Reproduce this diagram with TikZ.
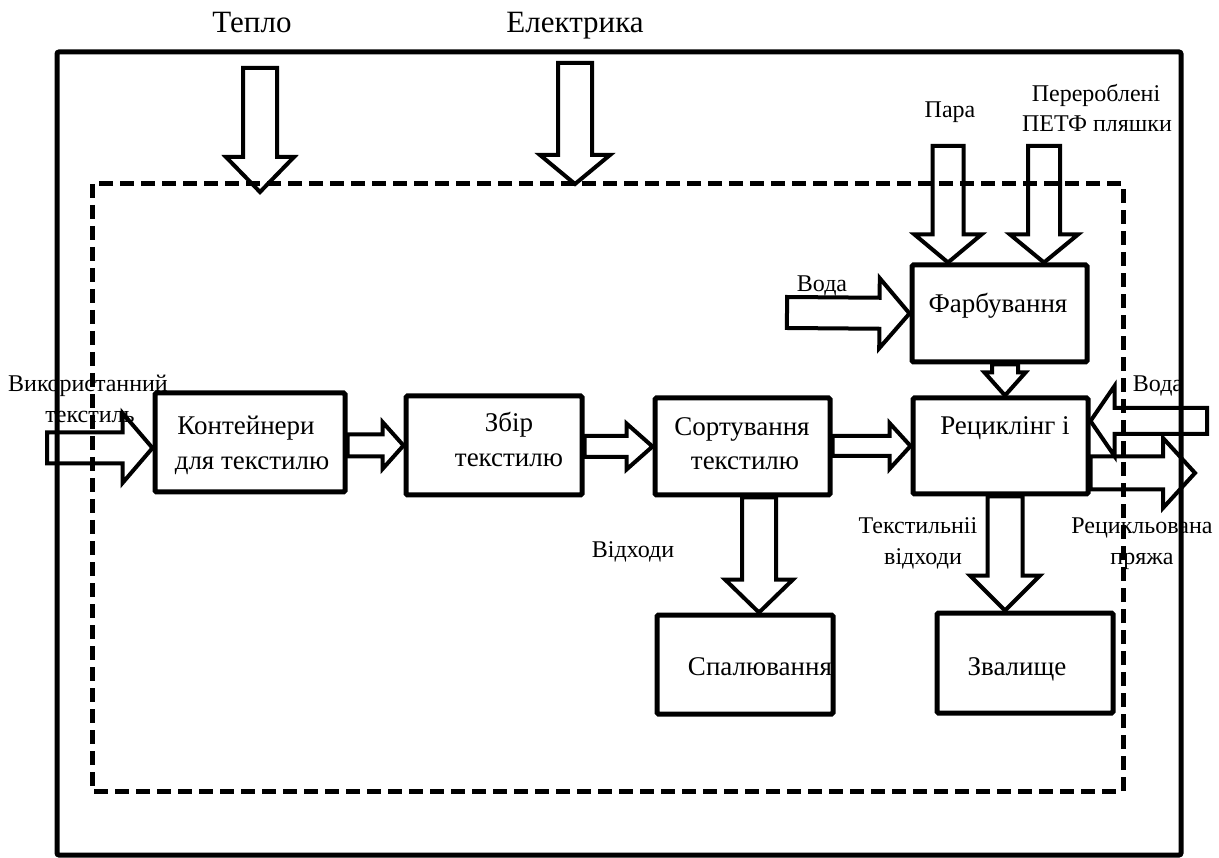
\documentclass[tikz,border=0pt]{standalone}
\usepackage{fontspec}
\setmainfont{Liberation Serif}
\usetikzlibrary{calc}
\tikzset{
  box/.style={draw, line width=5pt, rounded corners=1.5pt, inner sep=0pt},
  fat/.style={draw, line width=4pt, line join=miter, miter limit=6},
  txt/.style={inner sep=0pt, anchor=base, font=\fontsize{27}{32}\selectfont},
  lbl/.style={inner sep=0pt, anchor=base, font=\fontsize{24}{28}\selectfont},
  head/.style={inner sep=0pt, anchor=base, font=\fontsize{31}{36}\selectfont},
}
% outlined block arrow: [options]{from}{to}{shaft half width}{head half width}{head length}
\newcommand{\blockarrow}[6][]{%
  \coordinate (ba-h) at ($(#3)!#6pt!(#2)$);
  \draw[fat,#1] ($(#2)!#4pt!90:(#3)$) -- ($(ba-h)!#4pt!-90:(#2)$)
    -- ($(ba-h)!#5pt!-90:(#2)$) -- (#3) -- ($(ba-h)!#5pt!90:(#2)$)
    -- ($(ba-h)!#4pt!90:(#2)$) -- ($(#2)!#4pt!-90:(#3)$) -- cycle;
}
\begin{document}
\begin{tikzpicture}[x=1pt,y=-1pt]
\useasboundingbox (0,0) rectangle (1219,858);

% system boundaries
\draw[line width=5pt, rounded corners=2pt] (57,52) rectangle (1181,855);
\draw[line width=5pt, dash pattern=on 14pt off 7pt] (92,184) rectangle (1123,791);

% process blocks
\node[box, minimum width=190pt, minimum height=99pt] (kont) at (250,442.5) {};
\node[box, minimum width=176pt, minimum height=99pt] (zbir) at (494,445.5) {};
\node[box, minimum width=175pt, minimum height=97pt] (sort) at (742.5,446.5) {};
\node[box, minimum width=175pt, minimum height=96pt] (recy) at (1000.5,446) {};
\node[box, minimum width=175pt, minimum height=97pt] (farb) at (999.5,313.5) {};
\node[box, minimum width=176pt, minimum height=99pt] (spal) at (745,664.5) {};
\node[box, minimum width=176pt, minimum height=100pt] (zval) at (1025,663) {};

% block texts
\node[txt] (kont-t1) at (246,435) {Контейнери};
\node[txt] (kont-t2) at (252,470) {для текстилю};
\node[txt] (zbir-t1) at (509,432) {Збір};
\node[txt] (zbir-t2) at (509,467) {текстилю};
\node[txt] (sort-t1) at (742,436) {Сортування};
\node[txt] (sort-t2) at (745,470) {текстилю};
\node[txt] (recy-t) at (1005,435) {Рециклінг і};
\node[txt] (farb-t) at (998,313) {Фарбування};
\node[txt] (spal-t) at (760,675) {Спалювання};
\node[txt] (zval-t) at (1017,675) {Звалище};

% free arrow ends
\coordinate (heat-a) at (260,68);
\coordinate (heat-b) at (260,192);
\coordinate (elec-a) at (575,63);
\coordinate (elec-b) at (575,184);
\coordinate (used-a) at (47,448);
\coordinate (used-b) at ([yshift=-5.5pt]kont.west);
\coordinate (kz-a) at (kont.east |- zbir.west);
\coordinate (zs-a) at (zbir.east |- sort.west);
\coordinate (sr-a) at (sort.east |- recy.west);
\coordinate (sp-a) at ([xshift=16.5pt]sort.south);
\coordinate (sp-b) at ([xshift=14pt]spal.north);
\coordinate (rz-a) at ([xshift=4.5pt]recy.south);
\coordinate (rz-b) at ([xshift=-20pt]zval.north);
\coordinate (fr-a) at ([xshift=5.5pt]farb.south);
\coordinate (fr-b) at ([xshift=4.5pt]recy.north);
\coordinate (para-a) at (948,146);
\coordinate (para-b) at ([xshift=-51.5pt]farb.north);
\coordinate (pet-a) at (1044,146);
\coordinate (pet-b) at ([xshift=44.5pt]farb.north);
\coordinate (wl-a) at (787,312.5);
\coordinate (wr-a) at (1207,421);
\coordinate (wr-b) at ([yshift=25pt]recy.east);
\coordinate (yarn-a) at ([yshift=-27pt]recy.east);
\coordinate (yarn-b) at (1195,473);

% flows
\blockarrow{heat-a}{heat-b}{17}{34}{35}
\blockarrow{elec-a}{elec-b}{17}{35}{29}
\blockarrow{used-a}{used-b}{15.5}{35}{30}
\blockarrow{kz-a}{zbir.west}{11}{23.5}{21}
\blockarrow{zs-a}{sort.west}{10.5}{23}{26}
\blockarrow{sr-a}{recy.west}{10}{23}{21}
\blockarrow{sp-a}{sp-b}{17}{34}{33}
\blockarrow{rz-a}{rz-b}{17.5}{35}{35}
\blockarrow{fr-a}{fr-b}{13}{20.5}{23}
\blockarrow{para-a}{para-b}{15.5}{33.5}{28}
\blockarrow{pet-a}{pet-b}{16}{34}{28}
\blockarrow{wl-a}{farb.west}{15.5}{35}{30}
\blockarrow{wr-a}{wr-b}{13}{35}{24}
\blockarrow{yarn-a}{yarn-b}{16.5}{35}{32}

% flow labels
\node[head] (heat-t) at (252,33) {Тепло};
\node[head] (elec-t) at (575,33) {Електрика};
\node[lbl] (used-t1) at (88,392) {Використанний};
\node[lbl] (used-t2) at (90,423) {текстиль};
\node[lbl] (waste-t) at (633,557) {Відходи};
\node[lbl] (tw-t1) at (918,533) {Текстильніі};
\node[lbl] (tw-t2) at (923,565) {відходи};
\node[lbl] (yarn-t1) at (1142,533) {Рецикльована};
\node[lbl] (yarn-t2) at (1142,565) {пряжа};
\node[lbl] (wl-t) at (822,292) {Вода};
\node[lbl] (wr-t) at (1158,392) {Вода};
\node[lbl] (para-t) at (950,118) {Пара};
\node[lbl] (pet-t1) at (1096,102) {Перероблені};
\node[lbl] (pet-t2) at (1097,132) {ПЕТФ пляшки};
\end{tikzpicture}
\end{document}
